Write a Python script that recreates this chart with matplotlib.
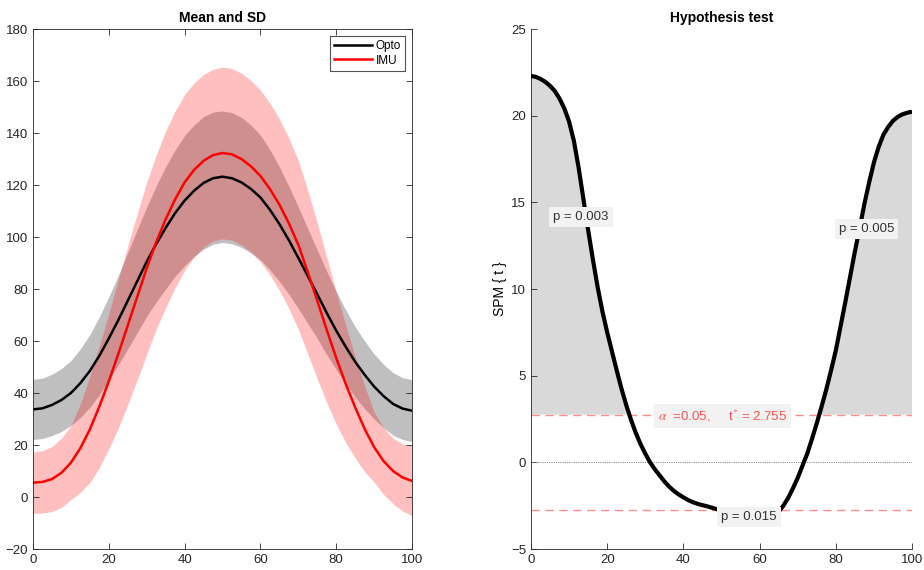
import numpy as np
import matplotlib
matplotlib.use("Agg")
import matplotlib.pyplot as plt

plt.rcParams['font.family'] = ['Liberation Sans', 'DejaVu Sans']
plt.rcParams['mathtext.fontset'] = 'stix'

# ---- time-normalised curves (0-100 %), sampled every 2.5 %
x_norm = np.arange(0, 100.1, 2.5)
opto_mean = [33.7, 34.1, 35.4, 37.3, 40.0, 43.8, 48.5, 54.3, 61.0, 68.0, 75.5,
             83.0, 90.5, 97.3, 103.5, 109.2, 114.0, 117.8, 120.8, 122.6, 123.2,
             122.6, 121.0, 118.5, 115.2, 110.5, 105.0, 98.8, 92.0, 85.0, 78.0,
             70.8, 64.0, 57.8, 52.0, 47.0, 42.5, 38.8, 35.8, 34.0, 33.2]
opto_sd = [11.6, 11.6, 11.8, 12.1, 12.5, 13.2, 14.0, 15.0, 16.0, 17.2, 18.5,
           19.8, 21.0, 22.3, 23.5, 24.3, 25.0, 25.3, 25.5, 25.4, 25.3,
           25.2, 25.0, 24.6, 24.0, 23.1, 22.0, 20.8, 19.5, 18.2, 17.0,
           16.0, 15.0, 14.2, 13.5, 13.0, 12.5, 12.2, 12.0, 11.9, 11.9]
imu_mean = [5.5, 5.8, 6.9, 9.3, 13.2, 18.8, 26.0, 34.8, 44.5, 55.0, 66.0,
            77.0, 88.0, 98.0, 106.8, 114.5, 121.0, 125.8, 129.3, 131.5, 132.3,
            131.8, 130.0, 127.2, 123.5, 118.5, 112.5, 105.3, 97.0, 86.5, 75.5,
            64.3, 53.5, 43.5, 34.5, 26.2, 19.2, 13.8, 10.0, 7.5, 6.2]
imu_sd = [11.8, 12.0, 12.5, 13.3, 14.2, 17.0, 20.5, 23.5, 26.0, 28.5, 30.5,
          32.0, 33.0, 33.5, 34.0, 34.0, 33.8, 33.5, 33.2, 33.0, 33.0,
          33.0, 33.0, 33.0, 33.0, 33.0, 33.0, 32.8, 32.5, 31.5, 30.0,
          28.0, 25.5, 22.5, 19.5, 16.5, 13.5, 12.8, 12.6, 12.9, 13.4]

# ---- SPM{t} trajectory, sampled every 1.25 %
x_spm = np.arange(0, 100.01, 1.25)
spm_t = [22.29, 22.24, 22.12, 21.95, 21.72, 21.42, 20.98, 20.42, 19.65, 18.55,
         17.00, 15.20, 13.40, 11.70, 10.10, 8.70, 7.50, 6.40, 5.30, 4.25,
         3.30, 2.45, 1.70, 1.05, 0.50, 0.00, -0.40, -0.75, -1.10, -1.40,
         -1.65, -1.85, -2.02, -2.18, -2.30, -2.40, -2.47, -2.54, -2.62, -2.70,
         -2.78, -2.86, -2.93, -2.99, -3.04, -3.07, -3.09, -3.10, -3.09, -3.06,
         -3.00, -2.95, -2.85, -2.50, -2.05, -1.50, -0.90, -0.20, 0.50, 1.35,
         2.25, 3.20, 4.20, 5.30, 6.45, 7.85, 9.25, 10.70, 12.15, 13.50,
         14.90, 16.15, 17.30, 18.20, 18.90, 19.35, 19.70, 19.93, 20.08, 20.17,
         20.23]
t_crit = 2.755
cluster_p = ["p = 0.003", "p = 0.005", "p = 0.015"]
cluster_xy = [(13.1, 14.13), (88.1, 13.44), (57.2, -3.18)]

axcol = (0.15, 0.15, 0.15)

fig = plt.figure(figsize=(9.24, 5.70), dpi=100)
ax1 = fig.add_axes([33/924, 1-549/570, 379/924, 520/570])
ax2 = fig.add_axes([531/924, 1-549/570, 381/924, 520/570])

# ---- left: mean +/- SD
om, osd = np.array(opto_mean), np.array(opto_sd)
im, isd = np.array(imu_mean), np.array(imu_sd)
ax1.fill_between(x_norm, om - osd, om + osd, color='k', alpha=0.25, lw=0)
l1, = ax1.plot(x_norm, om, color='k', lw=1.8, label='Opto')
ax1.fill_between(x_norm, im - isd, im + isd, color='r', alpha=0.25, lw=0)
l2, = ax1.plot(x_norm, im, color='r', lw=1.8, label='IMU')
ax1.set_xlim(0, 100)
ax1.set_ylim(-20, 180)
ax1.set_xticks(range(0, 101, 20))
ax1.set_yticks(range(-20, 181, 20))
ax1.set_title('Mean and SD', fontsize=10, fontweight='bold', color='k', pad=5)
leg = ax1.legend(handles=[l1, l2], loc='upper right', fontsize=8.5, frameon=True,
                 fancybox=False, edgecolor=axcol, handlelength=3.2,
                 borderpad=0.35, labelspacing=0.2, handletextpad=0.3,
                 borderaxespad=0.6)
leg.get_frame().set_linewidth(0.8)
ax1.tick_params(direction='in', top=True, right=True, length=4, width=0.6,
                colors=axcol, labelsize=9.5)
for s in ax1.spines.values():
    s.set_color(axcol)
    s.set_linewidth(0.6)

# ---- right: SPM{t}
t = np.array(spm_t)
ax2.fill_between(x_spm, t, t_crit, where=t > t_crit, interpolate=True,
                 color=(0.85, 0.85, 0.85), lw=0)
ax2.fill_between(x_spm, t, -t_crit, where=t < -t_crit, interpolate=True,
                 color=(0.85, 0.85, 0.85), lw=0)
ax2.plot(x_spm, t, color='k', lw=3, solid_capstyle='butt', zorder=3)
ax2.axhline(0, color=(0.55, 0.55, 0.55), lw=0.8, ls=(0, (1, 1)), zorder=2)
for v in (t_crit, -t_crit):
    ax2.axhline(v, color=(1.0, 0.55, 0.55), lw=1.0, ls=(0, (6, 4)), zorder=2)
ax2.text(50.3, 2.67, r'$\alpha$  =0.05,     t$^{*}$ = 2.755', color=(1.0, 0.33, 0.33),
         fontsize=9.5, ha='center', va='center', zorder=5,
         bbox=dict(boxstyle='square,pad=0.3', fc=(0.95, 0.95, 0.95), ec='none'))
for lab, (xx, yy) in zip(cluster_p, cluster_xy):
    ax2.text(xx, yy, lab, color=(0.2, 0.2, 0.2), fontsize=9.5, ha='center',
             va='center', zorder=5,
             bbox=dict(boxstyle='square,pad=0.3', fc=(0.95, 0.95, 0.95), ec='none'))
ax2.set_xlim(0, 100)
ax2.set_ylim(-5, 25)
ax2.set_xticks(range(0, 101, 20))
ax2.set_yticks(range(-5, 26, 5))
ax2.set_ylabel('SPM { t }', fontsize=10, color='k', labelpad=3)
ax2.set_title('Hypothesis test', fontsize=10, fontweight='bold', color='k', pad=5)
ax2.spines['top'].set_visible(False)
ax2.spines['right'].set_visible(False)
for s in ('left', 'bottom'):
    ax2.spines[s].set_color(axcol)
    ax2.spines[s].set_linewidth(0.6)
ax2.tick_params(direction='in', length=4, width=0.6, colors=axcol, labelsize=9.5)

fig.savefig('out.png', dpi=100)
